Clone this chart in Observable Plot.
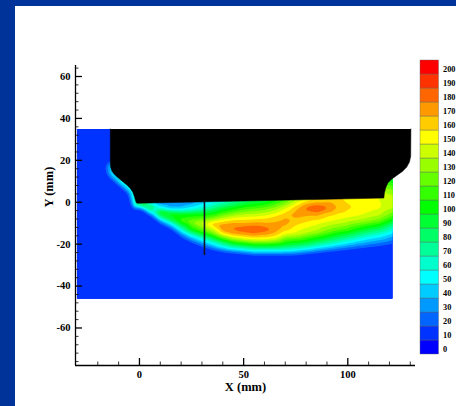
<!DOCTYPE html>
<html><head><meta charset="utf-8">
<script src="https://cdn.jsdelivr.net/npm/d3@7"></script>
<script src="https://cdn.jsdelivr.net/npm/@observablehq/plot@0.6"></script>
<style>
html,body{margin:0;padding:0;width:456px;height:406px;overflow:hidden;background:#003399;}
#panel{position:absolute;left:15px;top:6px;width:441px;height:400px;background:#fff;}
#chart{position:absolute;left:0;top:0;}
#legend{position:absolute;left:410px;top:50px;}
</style></head><body>
<div id="panel"></div><div id="chart"></div><div id="legend"></div>
<script>
// ---- contour levels & colours (legend) ----
const levels = [0,10,20,30,40,50,60,70,80,90,100,110,120,130,140,150,160,170,180,190,200];
const levelColors = ["#0000ff","#0033ff","#0066ff","#0099ff","#00ccff","#00ffff","#00ffcc","#00ff99","#00ff66","#00ff33","#00ff00","#33ff00","#66ff00","#99ff00","#ccff00","#ffff00","#ffcc00","#ff9900","#ff6600","#ff3300","#ff0000"];

// ---- axes ----
const xDomain = [-30.7, 132.5];
const yDomain = [-77.9, 65.25];
const xMajor = [0, 50, 100];
const xMinor = [-20,-10,10,20,30,40,60,70,80,90,110,120,130];
const yMajor = [-60,-40,-20,0,20,40,60];
const yMinor = [-76,-72,-68,-64,-56,-52,-48,-44,-36,-32,-28,-24,-16,-12,-8,-4,4,8,12,16,24,28,32,36,44,48,52,56,64];
const xTitle = "X (mm)";
const yTitle = "Y (mm)";

// ---- field extent (x1, x2, y1, y2) ----
const fieldExtent = [-30, 121.5, -46, 35];

// ---- tool (black body) outline [x, y] ----
const toolOutline = [[-14,35],[-14,19],[-13.8,16.8],[-13.3,15],[-12.3,13.6],[-10.8,12.2],[-8.6,10.3],[-6.2,8.3],[-4.4,6.6],[-3.2,4.8],[-2.4,2.6],[-1.9,0.8],[-1.5,-0.2],[-1.0,-0.5],[117.3,2.0],[117.6,4.5],[118.3,7.2],[119.3,9.3],[121,11],[123.5,12.8],[126.2,14.7],[128.3,16.8],[129.6,19.2],[130.2,22],[130.3,35]];

// ---- probe line ----
const probeLine = [{x: 31.2, y1: -25.4, y2: 0.1}];

// ---- sampled field values [x, y, value] ----
const backgroundSamples = [[-30,35,15],[-30,15,15],[-30,-5,15],[-30,-25,15],[-30,-46,15],[-15,-46,15],[0,-46,15],[20,-46,15],[40,-46,15],[60,-46,15],[80,-46,15],[100,-46,15],[121.5,-46,15],[121.5,-32,15],[-20,35,15],[-14.5,35,15],[-14.5,30,15],[-14.5,25,15],[-14.6,20,15],[-20,20,15],[-20,5,15],[-15,-10,15],[-10,-5,15],[0,-15,15],[10,-25,15],[30,-32,15],[60,-35,15],[90,-33,15],[110,-30,15]];
const edgeSamples = [[-14.5,17,40],[-14.0,14.6,45],[-12.8,13.0,50],[-11.2,11.6,50],[-9.0,9.7,55],[-6.6,7.7,55],[-4.9,6.1,55],[-3.8,4.4,55],[-3.0,2.4,60],[-2.5,0.5,65],[-1.9,-0.9,75]];
const edgeOuterSamples = [[-16.5,17,15],[-16,13.5,15],[-14.3,11.2,15],[-12.4,9.6,15],[-10.2,7.8,15],[-7.8,5.8,15],[-6.0,4.2,15],[-5.2,2.5,15],[-4.6,0.2,15],[-3.8,-2,15],[-2.5,-3.5,15]];
const toolInsideSamples = [[-13,21,15],[-12.5,17,40],[-12.2,15.5,45],[-11,14,50],[-9.8,13,50],[-7.8,11.2,55],[-5.5,9.3,55],[-3.6,7.6,55],[-2.2,5.5,55],[-1.3,3,60],[-0.5,1,70],[-5,28,15],[0,20,15],[30,20,15],[60,20,15],[90,20,15],[115,25,15],[121.5,20,15],[121.5,35,15]];
const rightStripSamples = [[118.5,2.5,145],[119.5,5,135],[120.5,8,120],[121.5,11,100],[121.5,5,135]];
const profileSamples = [
  [0,-0.7,90],[0,-2,60],[0,-3.5,15],[0,2,90],
  [2.5,-0.7,95],[2.5,-2.2,80],[2.5,-4,30],[2.5,-5,15],[2.5,2,95],
  [5,-0.6,60],[5,-2.5,95],[5,-4.5,60],[5,-6.5,15],[5,2,60],
  [10,-0.5,35],[10,-2.5,55],[10,-4.5,100],[10,-6.5,85],[10,-8.5,45],[10,-10.5,15],[10,2.2,35],
  [15,-0.4,30],[15,-3,45],[15,-5.5,105],[15,-8,95],[15,-10.5,50],[15,-13,15],[15,2.3,30],
  [20,-0.3,30],[20,-3,45],[20,-6,105],[20,-9,115],[20,-12,75],[20,-15,35],[20,-17,15],[20,2.4,30],
  [25,-0.2,35],[25,-3,55],[25,-6,105],[25,-9.5,130],[25,-13,105],[25,-16,55],[25,-19.5,15],[25,2.5,35],
  [30,-0.1,45],[30,-3,65],[30,-6,105],[30,-10,145],[30,-14,115],[30,-17.5,60],[30,-21.5,15],[30,2.6,45],
  [35,0,55],[35,-3,80],[35,-6.5,115],[35,-10.5,165],[35,-14.5,130],[35,-18.5,70],[35,-23,15],[35,2.7,55],
  [40,0.1,65],[40,-3,95],[40,-7,135],[40,-10,168],[40,-12,178],[40,-14,170],[40,-16,140],[40,-19.5,80],[40,-24,15],[40,2.8,65],
  [45,0.2,75],[45,-3,105],[45,-7,145],[45,-10,172],[45,-12.5,182],[45,-15,172],[45,-17,145],[45,-20.5,85],[45,-24.5,15],[45,2.9,75],
  [50,0.3,85],[50,-3,115],[50,-7,150],[50,-10.5,174],[50,-12.8,188],[50,-15.2,174],[50,-17.5,148],[50,-21,85],[50,-25,15],[50,3,85],
  [55,0.4,90],[55,-3,120],[55,-7.5,155],[55,-10.5,176],[55,-13,192],[55,-15.5,176],[55,-18,148],[55,-21.5,85],[55,-25.5,15],[55,3.1,90],
  [60,0.5,95],[60,-3,125],[60,-7.5,158],[60,-10.5,174],[60,-13,186],[60,-15.5,172],[60,-18,148],[60,-21.5,85],[60,-25.5,15],[60,3.2,95],
  [65,0.6,105],[65,-3,135],[65,-7,162],[65,-10,172],[65,-12.5,178],[65,-15,168],[65,-17.5,148],[65,-21.5,85],[65,-25.5,15],[65,3.3,105],
  [70,0.7,120],[70,-3,150],[70,-6.5,168],[70,-9.5,174],[70,-12,168],[70,-15,152],[70,-21,88],[70,-25.5,15],[70,3.4,120],
  [75,0.8,140],[75,-2.5,165],[75,-5.5,174],[75,-8.5,168],[75,-11,160],[75,-15,148],[75,-20.5,88],[75,-25.5,15],[75,3.5,140],
  [80,0.9,155],[80,-1.5,176],[80,-3.5,182],[80,-6,172],[80,-10,158],[80,-14.5,142],[80,-20,88],[80,-25,15],[80,3.6,155],
  [85,1.0,162],[85,-1.5,182],[85,-3.2,192],[85,-5.5,175],[85,-9.5,155],[85,-14,138],[85,-19.5,82],[85,-24.5,15],[85,3.7,162],
  [90,1.1,165],[90,-1.5,178],[90,-3.5,180],[90,-5.5,166],[90,-9,152],[90,-13.5,130],[90,-19,78],[90,-24,15],[90,3.8,165],
  [95,1.2,162],[95,-2.5,170],[95,-6,158],[95,-9,148],[95,-13,124],[95,-18.5,72],[95,-23.5,15],[95,3.9,162],
  [100,1.3,158],[100,-2.5,162],[100,-6,155],[100,-9,143],[100,-13,117],[100,-18,66],[100,-23,15],[100,4,158],
  [105,1.4,156],[105,-2.5,158],[105,-6,152],[105,-9,138],[105,-12.5,108],[105,-17.5,60],[105,-22.5,15],[105,4.1,156],
  [110,1.5,154],[110,-2.5,155],[110,-6,147],[110,-9,132],[110,-12,102],[110,-17,55],[110,-22,15],[110,4.2,154],
  [115,1.6,150],[115,-2.5,152],[115,-6,142],[115,-9,124],[115,-12,94],[115,-16.5,52],[115,-21.5,15],[115,4.3,150],
  [121.5,2,145],[121.5,-2.5,142],[121.5,-6,124],[121.5,-9,98],[121.5,-12,70],[121.5,-15.5,45],[121.5,-20.5,15]
];

const fieldSamples = [...backgroundSamples, ...edgeSamples, ...edgeOuterSamples, ...toolInsideSamples, ...rightStripSamples, ...profileSamples]
  .map(([x, y, v]) => ({x, y, v}));

const frameW = 340, frameH = 300;
const font = "'Liberation Serif', 'Times New Roman', serif";
const colorScale = {type: "threshold", domain: levels.slice(1), range: levelColors};

const chart = Plot.plot({
  width: 456, height: 406,
  marginLeft: 75, marginRight: 41, marginTop: 65, marginBottom: 41,
  x: {domain: xDomain, label: null},
  y: {domain: yDomain, label: null},
  color: colorScale,
  style: {background: "transparent", fontFamily: font, color: "#000", overflow: "visible"},
  marks: [
    Plot.contour(fieldSamples, {x: "x", y: "y", fill: "v", interpolate: "barycentric", thresholds: levels,
      x1: fieldExtent[0], x2: fieldExtent[1], y1: fieldExtent[2], y2: fieldExtent[3], blur: 1, pixelSize: 1, stroke: null}),
    Plot.line(toolOutline, {x: d => d[0], y: d => d[1], fill: "black", stroke: "black", strokeWidth: 0.5}),
    Plot.ruleX(probeLine, {x: "x", y1: "y1", y2: "y2", stroke: "#141428", strokeWidth: 1.6}),
    Plot.ruleX([xDomain[0]], {stroke: "#000", strokeWidth: 1.3}),
    Plot.ruleY([yDomain[0]], {stroke: "#000", strokeWidth: 1.3}),
    Plot.tickY(yMajor, {insetRight: frameW - 7, stroke: "#000", strokeWidth: 1.3}),
    Plot.tickY(yMinor, {insetRight: frameW - 3.5, stroke: "#000", strokeWidth: 0.8}),
    Plot.tickX(xMajor, {insetTop: frameH - 7, stroke: "#000", strokeWidth: 1.3}),
    Plot.tickX(xMinor, {insetTop: frameH - 3.5, stroke: "#000", strokeWidth: 0.8}),
    Plot.axisX(xMajor, {tickSize: 0, tickPadding: 5, tickFormat: d => String(d), fontWeight: "bold", fontSize: 10.5, label: null}),
    Plot.axisY(yMajor, {tickSize: 0, tickPadding: 5, tickFormat: d => String(d), fontWeight: "bold", fontSize: 10.5, label: null}),
    Plot.text([xTitle], {text: d => d, frameAnchor: "bottom", dy: 25, fontWeight: "bold", fontSize: 12.5}),
    Plot.text([yTitle], {text: d => d, frameAnchor: "left", dx: -27, dy: -8, rotate: -90, fontWeight: "bold", fontSize: 12.5})
  ]
});
document.getElementById("chart").appendChild(chart);

const legend = Plot.plot({
  width: 46, height: 330,
  marginLeft: 10, marginRight: 17.5, marginTop: 3.3, marginBottom: 20,
  y: {type: "band", domain: levels.slice().reverse(), padding: 0, label: null},
  color: colorScale,
  style: {background: "transparent", fontFamily: font, color: "#000", overflow: "visible"},
  marks: [
    Plot.cell(levels, {y: d => d, fill: d => d, stroke: "#666", strokeWidth: 0.4}),
    Plot.axisY({anchor: "right", tickSize: 0, tickPadding: 4, tickFormat: d => String(d), fontWeight: "bold", fontSize: 8.3, dy: 2, label: null})
  ]
});
document.getElementById("legend").appendChild(legend);
</script></body></html>
